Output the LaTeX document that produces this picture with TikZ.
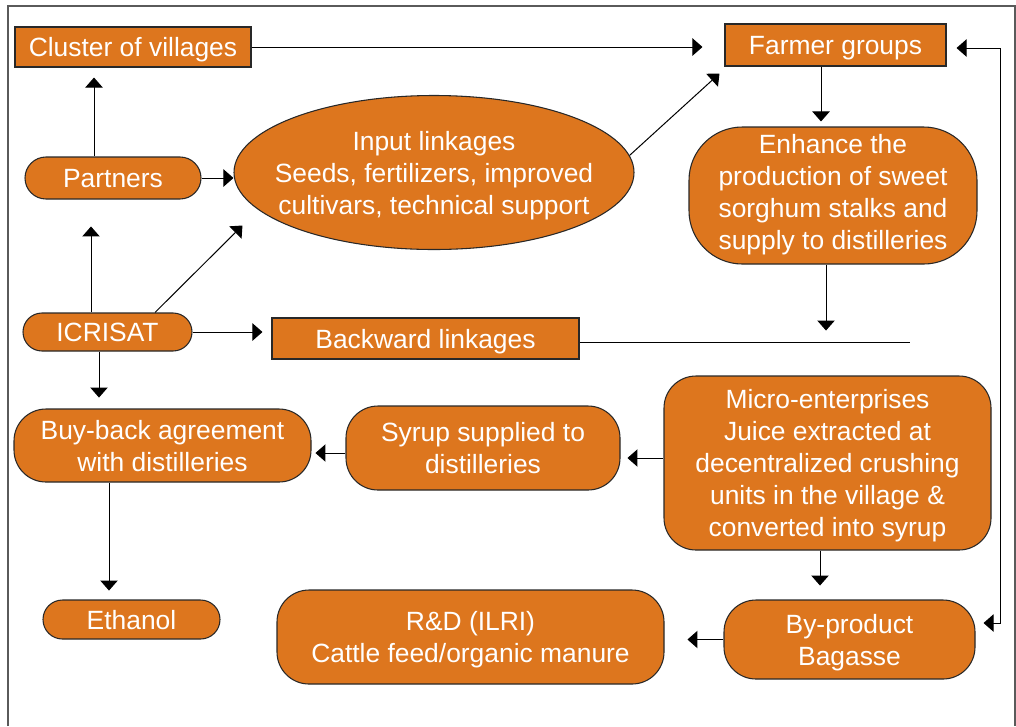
\documentclass[tikz,border=0pt]{standalone}
\usepackage{fontspec}
\setmainfont{Liberation Sans}
\usepackage{tikz}
\usetikzlibrary{arrows.meta,calc,shapes.geometric}

\definecolor{boxorange}{RGB}{221,118,30}
\definecolor{boxline}{RGB}{40,40,40}
\definecolor{framegray}{RGB}{90,90,90}

\tikzset{
    boxtext/.style={text=white, align=center, inner sep=2pt, text depth=0pt,
        font=\fontsize{19.8}{24}\selectfont},
    box/.style={boxtext, draw=boxline, fill=boxorange, line width=0.8pt},
    sqbox/.style={box},
    rbox/.style={box, rounded corners=24pt},
    pill/.style={box, rounded corners=#1},
    oval/.style={box, ellipse},
    arr/.style={line width=0.75pt, -{Triangle[length=7.5pt,width=13pt]}},
    arrboth/.style={line width=0.75pt, {Triangle[length=7.5pt,width=13pt]}-{Triangle[length=7.5pt,width=13pt]}},
    plain/.style={line width=0.75pt}
}

\begin{document}
\begin{tikzpicture}[x=0.75pt,y=0.75pt,yscale=-1,xscale=1]
        \useasboundingbox (0,0) rectangle (1016,726);

        % Frame
        \draw [framegray, line width=1pt] (8,726) -- (8,6) -- (1015,6) -- (1015,726) ;

        % Text Node
        \node [sqbox, minimum width=177pt, minimum height=30pt] (cluster) at (133,47) {Cluster of villages};
        % Text Node
        \node [sqbox, minimum width=165.75pt, minimum height=31.5pt] (farmer) at (835.5,45) {Farmer groups};
        % Text Node
        \node [pill=15.75pt, minimum width=132pt, minimum height=31.5pt] (partners) at (113,178) {Partners};
        % Text Node
        \node [oval, minimum width=300pt, minimum height=115.5pt] (input) at (434,172.5) {};
        \node [boxtext] (inputtext) at (input.center) {Input linkages\\Seeds, fertilizers, improved\\cultivars, technical support};
        % Text Node
        \node [pill=40pt, text depth=6pt, minimum width=216pt, minimum height=102.75pt] (enhance) at (833,195.5) {Enhance the\\ production of sweet\\sorghum stalks and\\supply to distilleries};
        % Text Node
        \node [pill=14.25pt, minimum width=126.75pt, minimum height=28.5pt] (icrisat) at (107.5,332) {ICRISAT};
        % Text Node
        \node [sqbox, minimum width=230.25pt, minimum height=30.75pt] (backward) at (425.5,338.5) {Backward linkages};
        % Text Node
        \node [rbox, minimum width=222.75pt, minimum height=54.75pt] (buyback) at (162.5,445.5) {Buy-back agreement\\with distilleries};
        % Text Node
        \node [rbox, minimum width=205.5pt, minimum height=63pt] (syrup) at (483,448) {Syrup supplied to\\distilleries};
        % Text Node
        \node [rbox, minimum width=245.25pt, minimum height=130.5pt] (micro) at (827.5,463) {Micro-enterprises\\Juice extracted at\\decentralized crushing\\units in the village \&\\converted into syrup};
        % Text Node
        \node [pill=14.6pt, minimum width=132.75pt, minimum height=29.25pt] (ethanol) at (131.5,619.5) {Ethanol};
        % Text Node
        \node [rbox, minimum width=290.25pt, minimum height=70.5pt] (rnd) at (470.5,637) {R\&D (ILRI)\\Cattle feed/organic manure};
        % Text Node
        \node [rbox, minimum width=188.25pt, minimum height=59.25pt] (byprod) at (849.5,639.5) {By-product\\Bagasse};

        \coordinate (bwend) at (910,342);
        \coordinate (loopt) at (1000,48);
        \coordinate (loopb) at (1000,623);

        %Straight Lines
        \draw [arr] (cluster.east) -- ($(farmer.west |- cluster.east)+(-22,0)$) ;
        \draw [arr] ($(partners.north)+(-19,0)$) -- ($(cluster.south)+(-39,10)$) ;
        \draw [arr] (partners.east) -- (partners.east -| input.west) ;
        \draw [arr] (input.5) -- ($(farmer.south west)+(-5,7)$) ;
        \draw [arr] ($(farmer.south)+(-14.5,0)$) -- ($(enhance.north)+(-12,-5)$) ;
        \draw [arr] ($(enhance.south)+(-7,0)$) -- ($(enhance.south)+(-7,66)$) ;
        \draw [plain] (backward.east |- bwend) -- (bwend) ;
        %Straight Lines
        \draw [arr] ($(icrisat.north)+(-16.5,0)$) -- ($(icrisat.north)+(-16.5,-86)$) ;
        \draw [arr] ($(icrisat.north)+(47.5,0)$) -- ($(input.west)+(9,53)$) ;
        \draw [arr] (icrisat.east) -- ($(icrisat.east -| backward.west)+(-9,0)$) ;
        \draw [arr] ($(icrisat.south)+(-8.5,0)$) -- ($(icrisat.south)+(-8.5,46)$) ;
        %Straight Lines
        \draw [arr] ($(syrup.west)+(0,5)$) -- ($(syrup.west)+(-30,5)$) ;
        \draw [arr] ($(micro.west)+(0,-5)$) -- ($(micro.west)+(-36,-5)$) ;
        \draw [arr] ($(buyback.south)+(-53.5,0)$) -- ($(buyback.south)+(-53.5,108)$) ;
        \draw [arr] ($(micro.south)+(-7.5,0)$) -- ($(micro.south)+(-7.5,35)$) ;
        \draw [arr] (byprod.west) -- ($(byprod.west)+(-36,0)$) ;
        %Straight Lines
        \draw [arrboth] ($(farmer.east)+(10,3)$) -- (loopt) -- (loopb) -- ($(byprod.east)+(8,-16.5)$) ;

    \end{tikzpicture}
\end{document}
